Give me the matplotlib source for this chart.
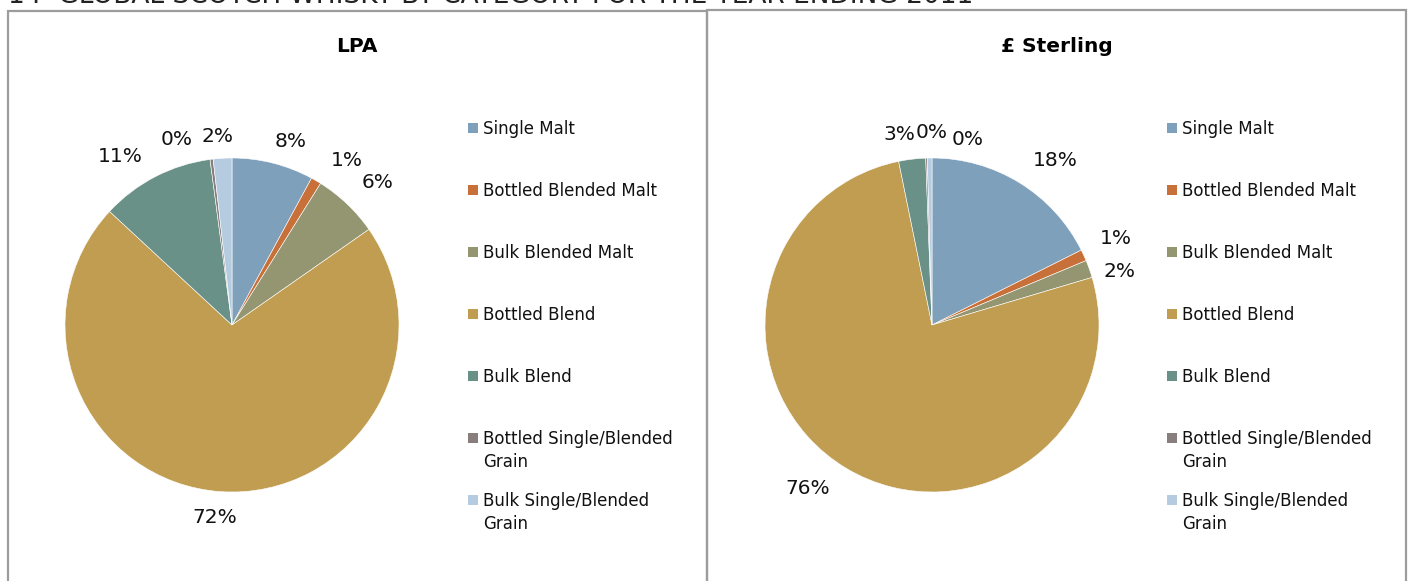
import matplotlib.pyplot as plt
import matplotlib.patches as mpatches
import numpy as np

# categories and shares (%)
categories = ['Single Malt', 'Bottled Blended Malt', 'Bulk Blended Malt',
              'Bottled Blend', 'Bulk Blend', 'Bottled Single/Blended\nGrain',
              'Bulk Single/Blended\nGrain']
colors = ['#7fa0bb', '#c8703a', '#949671', '#c09d51', '#6a9188', '#877e7d', '#b4cbe0']

lpa_share = [7.9, 1.0, 6.4, 71.6, 11.0, 0.3, 1.8]
sterling_share = [17.6, 1.1, 1.7, 76.4, 2.6, 0.15, 0.45]

# label tweaks (angle shift in degrees clockwise, distance in radii) - like Excel best fit
lpa_shift = [3.4, 4.7, 1.9, 1.2, -6.3, -9.7, -1.2]
lpa_dist = [1.15, 1.20, 1.22, 1.16, 1.21, 1.16, 1.13]
ster_shift = [5.2, -0.6, 3.7, 6.3, -2.8, 1.7, 11.8]
ster_dist = [1.23, 1.22, 1.17, 1.23, 1.16, 1.15, 1.13]

W, H = 1410, 581
plt.rcParams['font.family'] = 'DejaVu Sans'
fig = plt.figure(figsize=(W / 100, H / 100), dpi=100)

# caption sits mostly above the crop, only the bottom of the letters shows
fig.text(8 / W, 1 - 3 / H, '14  GLOBAL SCOTCH WHISKY BY CATEGORY FOR THE YEAR ENDING 2011',
         fontsize=19, va='baseline', ha='left', color='#222222')

# panel frames
for x0, x1, top in [(8, 707, 11), (707, 1406, 10)]:
    fig.patches.append(mpatches.Rectangle((x0 / W, -0.2), (x1 - x0) / W, 1.2 - top / H,
                                          transform=fig.transFigure, fill=False,
                                          edgecolor='#9c9c9c', linewidth=1.6))


def draw_pie(cx, title, share, shift, dist, legend_x):
    r = 167
    cy = 325
    ax = fig.add_axes([(cx - r) / W, (H - cy - r) / H, 2 * r / W, 2 * r / H])
    wedges, _ = ax.pie(share, colors=colors, startangle=90, counterclock=False,
                       wedgeprops=dict(edgecolor='white', linewidth=0.4))
    ax.set_xlim(-1, 1)
    ax.set_ylim(-1, 1)
    ax.axis('off')
    for w, v, s, d in zip(wedges, share, shift, dist):
        ang = np.deg2rad((w.theta1 + w.theta2) / 2 - s)
        ax.text(d * np.cos(ang), d * np.sin(ang), f'{round(v)}%', fontsize=14.5,
                ha='center', va='center', color='#111111')
    fig.text((cx + 125) / W, 1 - 47 / H, title, fontsize=14.5, fontweight='bold',
             ha='center', va='center')
    # legend, fixed pitch per entry, wrapped names continue below
    for i, (name, c) in enumerate(zip(categories, colors)):
        yc = 128 + 62 * i
        fig.patches.append(mpatches.Rectangle(((legend_x - 15) / W, 1 - (yc + 5) / H),
                                              10 / W, 10 / H, transform=fig.transFigure,
                                              facecolor=c, edgecolor='none'))
        for j, line in enumerate(name.split('\n')):
            fig.text(legend_x / W, 1 - (yc + 6 + 23 * j) / H, line, fontsize=12,
                     ha='left', va='baseline', color='#111111')


draw_pie(232, 'LPA', lpa_share, lpa_shift, lpa_dist, 483)
draw_pie(932, '£ Sterling', sterling_share, ster_shift, ster_dist, 1182)

fig.savefig('out.png', dpi=100)
